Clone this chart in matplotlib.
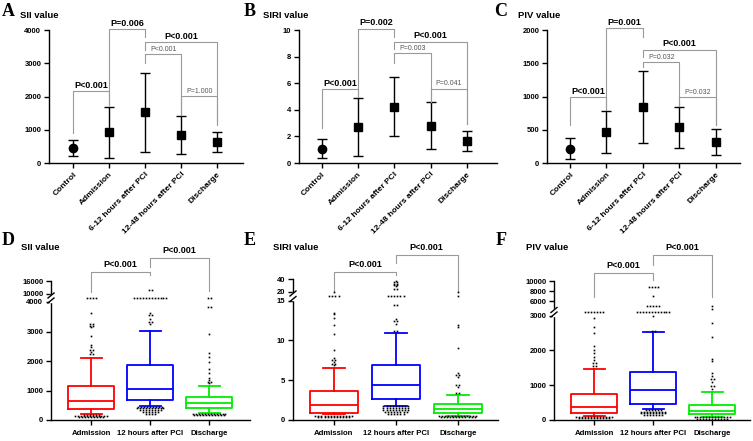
import numpy as np
import matplotlib.pyplot as plt
from matplotlib.lines import Line2D
from itertools import groupby

plt.rcParams['font.family'] = ['Liberation Sans', 'DejaVu Sans']
plt.rcParams['font.weight'] = 'bold'
plt.rcParams['axes.linewidth'] = 1.0

W, H = 753, 441

# ---------------- top row: mean with error range ----------------
top_cats = ["Control", "Admission", "6-12 hours after PCI", "12-48 hours after PCI", "Discharge"]

sii_mean = [450, 920, 1530, 840, 630]
sii_low = [200, 150, 340, 270, 330]
sii_high = [700, 1690, 2720, 1400, 930]

siri_mean = [1.05, 2.7, 4.2, 2.8, 1.65]
siri_low = [0.35, 0.55, 2.0, 1.07, 0.88]
siri_high = [1.8, 4.85, 6.45, 4.55, 2.42]

piv_mean = [215, 465, 840, 535, 320]
piv_low = [60, 150, 295, 220, 125]
piv_high = [375, 780, 1385, 840, 510]

# comparisons: (group i, group j, bracket y, left leg end, right leg end, label, bold)
sii_pairs = [(0, 1, 2160, 900, 1750, "P<0.001", True),
             (1, 2, 4020, 1750, 3780, "P=0.006", True),
             (2, 4, 3630, 3390, 1200, "P<0.001", True),
             (2, 3, 3270, 3000, 1440, "P<0.001", False),
             (3, 4, 2010, 1440, 1140, "P=1.000", False)]
siri_pairs = [(0, 1, 5.55, 2.6, 5.0, "P<0.001", True),
              (1, 2, 10.1, 5.0, 9.5, "P=0.002", True),
              (2, 4, 9.1, 8.6, 2.9, "P<0.001", True),
              (2, 3, 8.25, 7.5, 4.6, "P=0.003", False),
              (3, 4, 5.6, 4.6, 2.9, "P=0.041", False)]
piv_pairs = [(0, 1, 990, 570, 800, "P<0.001", True),
             (1, 2, 2025, 800, 1890, "P=0.001", True),
             (2, 4, 1700, 1590, 570, "P<0.001", True),
             (2, 3, 1515, 1440, 855, "P=0.032", False),
             (3, 4, 990, 855, 570, "P=0.032", False)]

# ---------------- bottom row: box plots ----------------
box_cats = ["Admission", "12 hours after PCI", "Discharge"]
box_colors = ["#FF0000", "#0000FF", "#00EE00"]

# (whisker low, q1, median, q3, whisker high)
sii_box = [(193, 362, 652, 1160, 2085),
           (485, 675, 1050, 1880, 3010),
           (248, 395, 564, 767, 1160)]
sii_out = [[2250, 2250, 2310, 2370, 2370, 2460, 2535, 2850, 3140, 3200, 3200, 3270, 3270, 3630]
           + [6775] * 4 + [185] * 6 + [150] * 12 + [115] * 9,
           [3270, 3330, 3330, 3440, 3550, 3550, 3630] + [6775] * 12 + [11850] * 2
           + [450] * 9 + [390] * 10 + [330] * 8 + [270] * 6 + [200] * 4,
           [1250, 1300, 1300, 1360, 1420, 1590, 1730, 1980, 2120, 2255, 2900, 3830, 3830, 6775, 6775]
           + [210] * 12 + [160] * 11]

siri_box = [(0.72, 0.92, 1.93, 3.7, 6.6),
            (1.8, 2.64, 4.44, 6.96, 10.9),
            (0.54, 0.84, 1.38, 2.0, 3.15)]
siri_out = [[6.9, 7.1, 7.1, 7.3, 7.55, 7.55, 7.8, 8.8, 10.8, 11.9, 12.8, 13.3, 13.5]
            + [17.7] * 4 + [20.2] + [0.55] * 13 + [0.4] * 11,
            [11.2, 11.2, 12.1, 12.4, 12.4, 12.7, 14.5, 14.5] + [17.7] * 6
            + [24.6, 24.6, 28.5, 30.5, 30.5, 32, 32, 35, 35, 37.4]
            + [1.7] * 9 + [1.45] * 9 + [1.2] * 9 + [0.95] * 8 + [0.7] * 6,
            [3.35, 3.35, 4.1, 4.4, 4.4, 5.4, 5.7, 5.7, 5.95, 9.0, 11.7, 11.9, 17.7, 20.2]
            + [0.5] * 13 + [0.35] * 12]

piv_box = [(125, 192, 365, 740, 1475),
           (307, 450, 853, 1390, 2520),
           (96, 173, 268, 440, 805)]
piv_out = [[1550, 1550, 1630, 1630, 1730, 1810, 1920, 2020, 2130, 2490, 2685, 2925]
           + [3830] * 7 + [95] * 13 + [55] * 11,
           [2560, 2560, 2990] + [3830] * 12 + [5020] * 5 + [7060] + [8800] * 4
           + [290] * 6 + [240] * 9 + [190] * 9 + [140] * 7,
           [880, 980, 980, 1080, 1180, 1180, 1260, 1340, 1690, 1745, 2400, 2780, 4400, 5080]
           + [80] * 13 + [40] * 11]

# broken-axis segments: value -> pixel height above the x axis
sii_seg = ([0, 4000, 10000, 16000], [0, 118, 126, 139])
siri_seg = ([0, 15, 20, 40], [0, 119.3, 128, 141])
piv_seg = ([0, 3000, 6000, 10000], [0, 104.3, 118.7, 138.7])

sii_pairs_b = [(0, 1, 20290, 10920, 18770), (1, 2, 26750, 22460, 11380)]
siri_pairs_b = [(0, 1, 51.2, 20.5, 46.2), (1, 2, 76.9, 64.2, 20.5)]
piv_pairs_b = [(0, 1, 11600, 6920, 10260), (1, 2, 15260, 13260, 6920)]

fig = plt.figure(figsize=(W / 100, H / 100), dpi=100)
GRAY = "#9a9a9a"


def px_axes(left, bottom, width, height):
    return fig.add_axes([left / W, bottom / H, width / W, height / H])


def style(ax):
    ax.spines['top'].set_visible(False)
    ax.spines['right'].set_visible(False)
    ax.tick_params(axis='both', length=3.5, width=1, pad=2)
    ax.tick_params(axis='y', labelsize=5.5)


def top_panel(rect, means, lows, highs, yticks, pairs, xlim, letter, title, letter_x, title_x):
    ax = px_axes(*rect)
    style(ax)
    for i in range(len(means)):
        ax.errorbar(i, means[i], yerr=[[means[i] - lows[i]], [highs[i] - means[i]]],
                    fmt='o' if i == 0 else 's', color='black', ms=6 if i == 0 else 5.5,
                    capsize=3.5, elinewidth=1, capthick=1)
    ax.set_ylim(yticks[0], yticks[-1])
    ax.set_yticks(yticks)
    ax.set_xlim(*xlim)
    ax.set_xticks(range(len(top_cats)))
    ax.set_xticklabels(top_cats, rotation=45, ha='right', rotation_mode='anchor', fontsize=6)
    off = (yticks[-1] - yticks[0]) * 0.012
    for i, j, y, yl, yr, txt, bold in pairs:
        ax.plot([i, i, j, j], [yl, y, y, yr], color=GRAY, lw=0.8, clip_on=False)
        ax.text((i + j) / 2, y + off, txt, ha='center', va='bottom',
                fontsize=6.5 if bold else 5, weight='bold' if bold else 'normal',
                color='black' if bold else '#555555')
    fig.text(letter_x / W, 1 - 12 / H, letter, family='Liberation Serif', weight='bold',
             fontsize=13, ha='center', va='center')
    fig.text(title_x / W, 1 - 16 / H, title, fontsize=6.8, ha='left', va='center')
    return ax


def swarm(vals, step):
    xs, ys = [], []
    for v, grp in groupby(vals):
        n = len(list(grp))
        xs.extend((np.arange(n) - (n - 1) / 2) * step)
        ys.extend([v] * n)
    return np.array(xs), np.array(ys)


def bottom_panel(rect, stats, outs, seg, yticks, brk, pairs, xlim, letter, title, letter_x, title_x):
    ax = px_axes(*rect)
    style(ax)
    v = np.array(seg[0], float)
    p = np.array(seg[1], float)
    s0 = (p[1] - p[0]) / (v[1] - v[0])
    s1 = (p[-1] - p[-2]) / (v[-1] - v[-2])
    ve = np.concatenate([[v[0] - 1e7], v, [v[-1] + 1e7]])
    pe = np.concatenate([[p[0] - 1e7 * s0], p, [p[-1] + 1e7 * s1]])
    fwd = lambda y: np.interp(y, ve, pe)
    inv = lambda q: np.interp(q, pe, ve)
    ax.set_yscale('function', functions=(fwd, inv))
    ax.set_ylim(v[0], v[-1])
    ax.set_yticks(yticks)
    ax.set_yticklabels([str(t) for t in yticks])
    ax.yaxis.set_minor_locator(plt.NullLocator())

    for k, (wl, q1, med, q3, wh) in enumerate(stats):
        c = box_colors[k]
        st = dict(whislo=wl, q1=q1, med=med, q3=q3, whishi=wh, fliers=[])
        ax.bxp([st], positions=[k], widths=0.78, capwidths=0.36, showfliers=False,
               boxprops=dict(color=c, lw=1.3), medianprops=dict(color=c, lw=1.3),
               whiskerprops=dict(color=c, lw=1.3), capprops=dict(color=c, lw=1.3))
        dx, dy = swarm(outs[k], 0.05)
        ax.plot(k + dx, dy, 's', color='black', ms=1.2, mew=0, ls='none', clip_on=False, zorder=4)
    ax.set_xlim(*xlim)
    ax.set_xticks(range(len(box_cats)))
    ax.set_xticklabels(box_cats, fontsize=5.6)
    ax.tick_params(axis='x', pad=4)

    for i, j, y, yl, yr in pairs:
        ax.plot([i, i, j, j], [yl, y, y, yr], color=GRAY, lw=0.8, clip_on=False)
        ax.text((i + j) / 2, inv(fwd(y) + 3), "P<0.001", ha='center', va='bottom', fontsize=6.5)

    # axis break on the y spine
    x0 = rect[0]
    yb0 = rect[1] + brk[0]
    yb1 = rect[1] + brk[1]
    fig.add_artist(Line2D([x0 / W, x0 / W], [yb0 / H, yb1 / H], color='white', lw=2.5,
                          transform=fig.transFigure, zorder=10))
    for yb in (yb0, yb1):
        fig.add_artist(Line2D([(x0 - 3) / W, (x0 + 3) / W], [(yb - 2.5) / H, (yb + 2.5) / H],
                              color='black', lw=1, transform=fig.transFigure, zorder=11))
    fig.text(letter_x / W, 1 - 240 / H, letter, family='Liberation Serif', weight='bold',
             fontsize=13, ha='center', va='center')
    fig.text(title_x / W, 1 - 247 / H, title, fontsize=6.8, ha='left', va='center')
    return ax


top_panel((49, 278, 194, 133), sii_mean, sii_low, sii_high, [0, 1000, 2000, 3000, 4000],
          sii_pairs, (-0.67, 4.72), "A", "SII value", 8, 20)
top_panel((299, 278, 198, 133), siri_mean, siri_low, siri_high, [0, 2, 4, 6, 8, 10],
          siri_pairs, (-0.63, 4.83), "B", "SIRI value", 250, 263)
top_panel((547, 278, 193, 133), piv_mean, piv_low, piv_high, [0, 500, 1000, 1500, 2000],
          piv_pairs, (-0.63, 4.66), "C", "PIV value", 501, 518)

bottom_panel((51, 21, 199, 139), sii_box, sii_out, sii_seg,
             [0, 1000, 2000, 3000, 4000, 10000, 16000], (119.5, 124.5), sii_pairs_b,
             (-0.68, 2.69), "D", "SII value", 8, 21)
bottom_panel((293, 21, 205, 141), siri_box, siri_out, siri_seg,
             [0, 5, 10, 15, 20, 40], (121, 126.5), siri_pairs_b,
             (-0.66, 2.65), "E", "SIRI value", 250, 273)
bottom_panel((554, 21, 196, 138.7), piv_box, piv_out, piv_seg,
             [0, 1000, 2000, 3000, 6000, 8000, 10000], (105.5, 110), piv_pairs_b,
             (-0.68, 2.64), "F", "PIV value", 501, 526)

fig.savefig("out.png", dpi=100)
